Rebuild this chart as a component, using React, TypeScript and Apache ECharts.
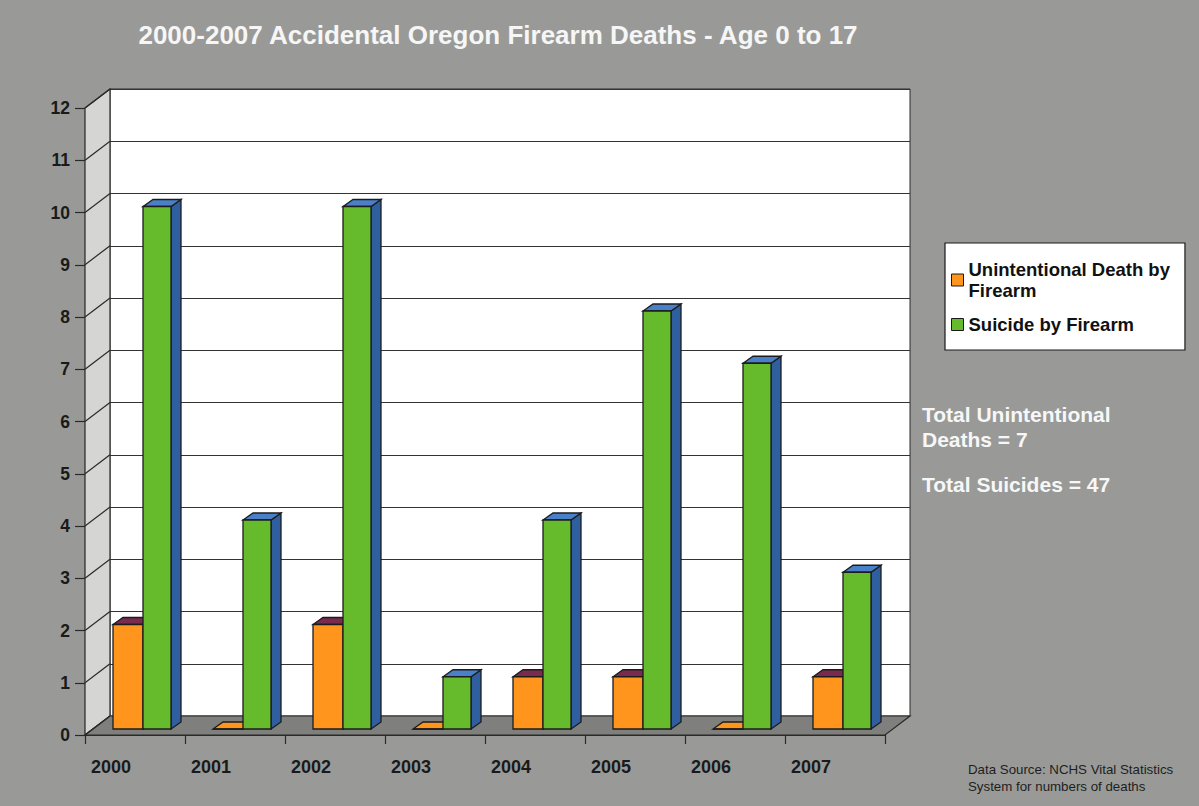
import React, { useEffect, useRef } from "react";
import * as echarts from "echarts";

const years = ["2000", "2001", "2002", "2003", "2004", "2005", "2006", "2007"];
const unintentional = [2, 0, 2, 0, 1, 1, 0, 1];
const suicide = [10, 4, 10, 1, 4, 8, 7, 3];
const yTicks = [0, 1, 2, 3, 4, 5, 6, 7, 8, 9, 10, 11, 12];
const seriesNames = ["Unintentional Death by Firearm", "Suicide by Firearm"];
const titleText = "2000-2007 Accidental Oregon Firearm Deaths - Age 0 to 17";
const noteUnintentional = "Total Unintentional\nDeaths = 7";
const noteSuicides = "Total Suicides = 47";
const sourceLines = ["Data Source: NCHS Vital Statistics", "System for numbers of deaths"];

// depth of the 3D box (back wall offset) and bar depth
const DX = 25;
const DY = -19;
const BDX = 10;
const BDY = -7;
const LIFT = -6;

const FONT = "'Liberation Sans', Arial, sans-serif";
const OUTLINE = "#1c1c1c";

function makeBarRender(offL: number, offR: number, front: string, top: string, side: string, zeroTop: string) {
  return (params: any, api: any) => {
    const i = api.value(0);
    const v = api.value(1);
    const base = api.coord([i, 0]);
    const tp = api.coord([i, v]);
    const band = api.size([1, 0])[0];
    const x0 = base[0] + offL * band;
    const x1 = base[0] + offR * band;
    const y0 = base[1] + LIFT;
    const y1 = tp[1] + LIFT;
    const lw = 1.3;
    return {
      type: "group",
      children: [
        {
          type: "polygon",
          shape: { points: [[x1, y1], [x1 + BDX, y1 + BDY], [x1 + BDX, y0 + BDY], [x1, y0]] },
          style: { fill: side, stroke: OUTLINE, lineWidth: lw },
        },
        {
          type: "polygon",
          shape: { points: [[x0, y1], [x1, y1], [x1 + BDX, y1 + BDY], [x0 + BDX, y1 + BDY]] },
          style: { fill: v === 0 ? zeroTop : top, stroke: OUTLINE, lineWidth: lw },
        },
        {
          type: "rect",
          shape: { x: x0, y: y1, width: x1 - x0, height: y0 - y1 },
          style: { fill: front, stroke: OUTLINE, lineWidth: lw },
        },
      ],
    };
  };
}

export default function App() {
  const ref = useRef<HTMLDivElement>(null);

  useEffect(() => {
    document.body.style.margin = "0";
    document.body.style.background = "#999a97";
    const chart = echarts.init(ref.current!, null, { renderer: "svg" });

    const GL = 85, GT = 108, GW = 800, GH = 627;

    const option: any = {
      animation: false,
      backgroundColor: "#999a97",
      textStyle: { fontFamily: FONT },
      title: {
        text: titleText,
        left: 493,
        top: 17,
        textAlign: "center",
        textStyle: { color: "#f6f6f6", fontSize: 26, fontWeight: "bold", fontFamily: FONT },
      },
      legend: {
        data: seriesNames,
        orient: "vertical",
        left: 945,
        top: 243,
        backgroundColor: "#ffffff",
        borderColor: "#1a1a1a",
        borderWidth: 1.2,
        padding: [16, 15, 15, 6],
        itemGap: 13,
        itemWidth: 12,
        itemHeight: 12,
        icon: "rect",
        itemStyle: { borderColor: "#1a1a1a", borderWidth: 1 },
        formatter: (name: string) =>
          name === seriesNames[0] ? "Unintentional Death by\nFirearm" : name,
        textStyle: { color: "#111", fontSize: 18.5, fontWeight: "bold", fontFamily: FONT, lineHeight: 21 },
      },
      grid: [
        {
          left: GL + DX,
          top: GT + DY,
          width: GW,
          height: GH,
          show: true,
          backgroundColor: "#ffffff",
          borderColor: "#2a2a2a",
          borderWidth: 1,
        },
        { left: GL, top: GT, width: GW, height: GH },
      ],
      xAxis: [
        {
          gridIndex: 0,
          type: "category",
          data: years,
          axisLine: { show: false },
          axisTick: { show: false },
          axisLabel: { show: false },
        },
        {
          gridIndex: 1,
          type: "category",
          data: years,
          axisLine: { show: true, lineStyle: { color: "#2a2a2a", width: 1.2 } },
          axisTick: { show: true, length: 9, lineStyle: { color: "#2a2a2a", width: 1.2 } },
          axisLabel: {
            color: "#1a1a1a",
            fontSize: 18,
            fontWeight: "bold",
            fontFamily: FONT,
            margin: 23,
            padding: [0, 48, 0, 0],
          },
        },
      ],
      yAxis: [
        {
          gridIndex: 0,
          type: "value",
          min: 0,
          max: 12,
          interval: 1,
          axisLine: { show: false },
          axisTick: { show: false },
          axisLabel: { show: false },
          splitLine: { show: true, lineStyle: { color: "#333", width: 1 } },
        },
        {
          gridIndex: 1,
          type: "value",
          min: 0,
          max: 12,
          interval: 1,
          axisLine: { show: true, lineStyle: { color: "#2a2a2a", width: 1.2 } },
          axisTick: { show: true, length: 10, lineStyle: { color: "#2a2a2a", width: 1.2 } },
          axisLabel: {
            color: "#1a1a1a",
            fontSize: 17.5,
            fontWeight: "bold",
            fontFamily: FONT,
            margin: 15,
          },
          splitLine: { show: false },
        },
      ],
      series: [
        {
          name: "walls",
          type: "custom",
          xAxisIndex: 1,
          yAxisIndex: 1,
          z: 1,
          silent: true,
          data: [[0, 0]],
          renderItem: (params: any) => {
            const cs = params.coordSys;
            const x = cs.x, y = cs.y, w = cs.width, h = cs.height;
            return {
              type: "group",
              children: [
                {
                  type: "polygon",
                  shape: { points: [[x, y], [x + DX, y + DY], [x + DX, y + h + DY], [x, y + h]] },
                  style: { fill: "#d5d5d3", stroke: "#2a2a2a", lineWidth: 1.2 },
                },
                {
                  type: "polygon",
                  shape: {
                    points: [[x, y + h], [x + DX, y + h + DY], [x + w + DX, y + h + DY], [x + w, y + h]],
                  },
                  style: { fill: "#7f7f7d", stroke: "#2a2a2a", lineWidth: 1.2 },
                },
              ],
            };
          },
        },
        {
          name: "tickDiagonals",
          type: "custom",
          xAxisIndex: 1,
          yAxisIndex: 1,
          z: 2,
          silent: true,
          data: yTicks.map((v) => [0, v]),
          renderItem: (params: any, api: any) => {
            const p = api.coord([0, api.value(1)]);
            const x = params.coordSys.x;
            return {
              type: "line",
              shape: { x1: x, y1: p[1], x2: x + DX, y2: p[1] + DY },
              style: { stroke: "#2a2a2a", lineWidth: 1.2 },
            };
          },
        },
        {
          name: seriesNames[0],
          type: "custom",
          xAxisIndex: 1,
          yAxisIndex: 1,
          z: 3,
          itemStyle: { color: "#ff951c" },
          data: unintentional.map((v, i) => [i, v]),
          renderItem: makeBarRender(-0.22, 0.08, "#ff951c", "#7a2a4e", "#c0600a", "#ff951c"),
        },
        {
          name: seriesNames[1],
          type: "custom",
          xAxisIndex: 1,
          yAxisIndex: 1,
          z: 4,
          itemStyle: { color: "#66bb2c" },
          data: suicide.map((v, i) => [i, v]),
          renderItem: makeBarRender(0.08, 0.36, "#66bb2c", "#4a80c8", "#2f5f9f", "#4a80c8"),
        },
      ],
      graphic: [
        {
          type: "text",
          left: 922,
          top: 402,
          style: {
            text: noteUnintentional,
            fill: "#f7f7f7",
            font: `bold 21px ${FONT}`,
            lineHeight: 25,
          },
        },
        {
          type: "text",
          left: 922,
          top: 472,
          style: {
            text: noteSuicides,
            fill: "#f7f7f7",
            font: `bold 21px ${FONT}`,
            lineHeight: 25,
          },
        },
        {
          type: "text",
          left: 968,
          top: 761,
          style: {
            text: sourceLines.join("\n"),
            fill: "#1e1e1e",
            font: `13.3px ${FONT}`,
            lineHeight: 17,
          },
        },
      ],
    };

    chart.setOption(option);
    return () => chart.dispose();
  }, []);

  return (
    <div
      ref={ref}
      style={{ position: "fixed", left: 0, top: 0, width: 1199, height: 806 }}
    />
  );
}
